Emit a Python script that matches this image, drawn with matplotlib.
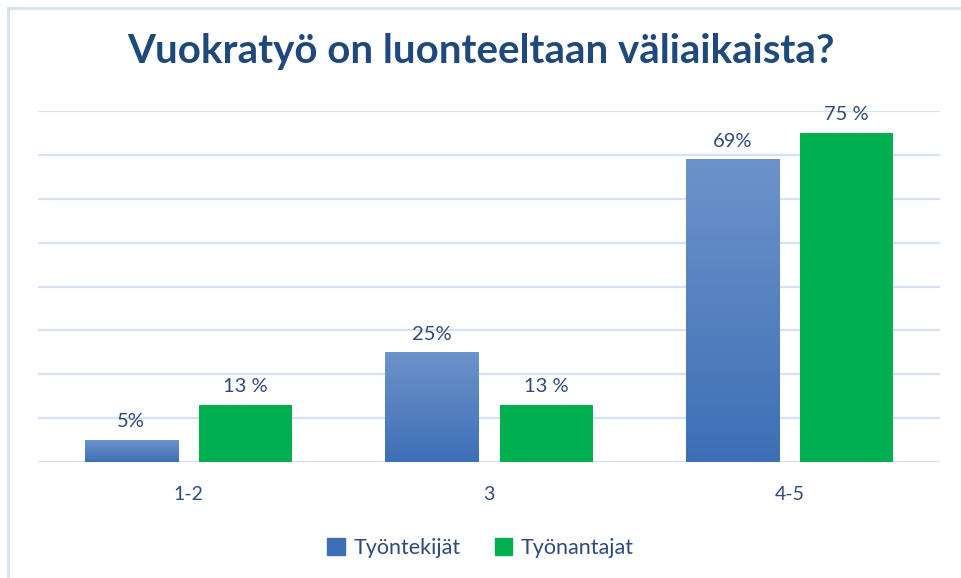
import matplotlib.pyplot as plt
import numpy as np
from matplotlib.colors import LinearSegmentedColormap
from matplotlib.lines import Line2D

plt.rcParams['font.family'] = ['Lato', 'DejaVu Sans']

# Data
categories = ['1-2', '3', '4-5']
series_names = ['Työntekijät', 'Työnantajat']
workers = [5, 25, 69]
employers = [13, 13, 75]
worker_labels = ['5%', '25%', '69%']
employer_labels = ['13 %', '13 %', '75 %']

text_color = '#2E4A7B'
grid_color = '#D6E2F3'
green = '#00B050'
blue_top = '#6D93CA'
blue_bottom = '#3D6FB6'

fig = plt.figure(figsize=(9.61, 5.78), dpi=100)
ax = fig.add_axes([38 / 961, 116 / 578, 902 / 961, 351 / 578])

x = np.arange(len(categories))
bar_width = 0.31
offset = 0.19

bars_w = ax.bar(x - offset, workers, bar_width, color=blue_bottom, zorder=2)
bars_e = ax.bar(x + offset, employers, bar_width, color=green, zorder=2)

# Gradient fill for blue bars (lighter at the top)
cmap = LinearSegmentedColormap.from_list('bluegrad', [blue_bottom, blue_top])
grad = np.linspace(0, 1, 256).reshape(-1, 1)
for bar in bars_w:
    x0, y0 = bar.get_x(), bar.get_y()
    w, h = bar.get_width(), bar.get_height()
    im = ax.imshow(grad, cmap=cmap, origin='lower', aspect='auto',
                   extent=(x0, x0 + w, y0, y0 + h), zorder=3)
    im.set_clip_path(bar)

for bars, labels in ((bars_w, worker_labels), (bars_e, employer_labels)):
    for bar, lab in zip(bars, labels):
        ax.annotate(lab, xy=(bar.get_x() + bar.get_width() / 2, bar.get_height()),
                    xytext=(0, 7), textcoords='offset points', ha='center', va='bottom',
                    fontsize=14.5, color=text_color, annotation_clip=False)

ax.set_xlim(-0.5, 2.5)
ax.set_ylim(0, 80)
ax.set_yticks(np.arange(0, 81, 10))
ax.yaxis.grid(True, color=grid_color, linewidth=1.6, zorder=0)
ax.set_axisbelow(True)
ax.tick_params(axis='y', left=False, labelleft=False)
ax.tick_params(axis='x', length=0, pad=17, labelsize=14, labelcolor=text_color)
ax.set_xticks(x)
ax.set_xticklabels(categories)
for s in ax.spines.values():
    s.set_visible(False)
ax.axhline(0, color=grid_color, linewidth=2.2, zorder=1)

fig.text(0.5, 1 - 52 / 578, 'Vuokratyö on luonteeltaan väliaikaista?', ha='center', va='center',
         fontsize=29, fontweight='bold', color='#1F497D')

handles = [plt.Rectangle((0, 0), 1, 1, color=blue_bottom),
           plt.Rectangle((0, 0), 1, 1, color=green)]
fig.legend(handles, series_names, loc='center', bbox_to_anchor=(0.5, 1 - 548 / 578),
           ncol=2, frameon=False, fontsize=15.5, labelcolor=text_color,
           handlelength=0.8, handleheight=0.8, handletextpad=0.4, columnspacing=1.6)

# chart border (top and left edges visible)
fig.add_artist(Line2D([8 / 961, 8 / 961], [0, 1 - 8 / 578], color=grid_color, linewidth=2))
fig.add_artist(Line2D([8 / 961, 1], [1 - 8 / 578, 1 - 8 / 578], color=grid_color, linewidth=2))

fig.savefig('out.png', dpi=100)
